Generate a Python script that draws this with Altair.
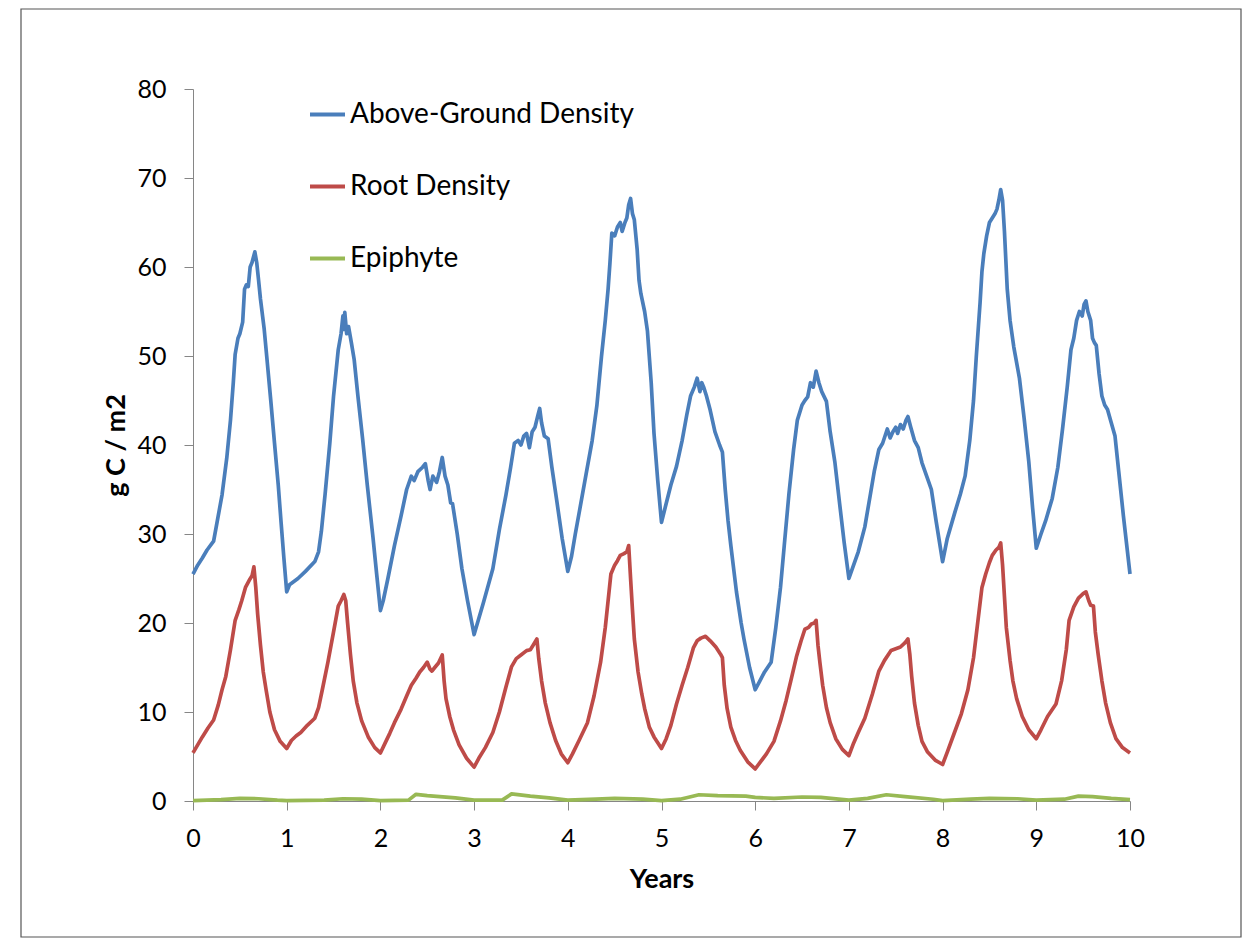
import altair as alt
import pandas as pd

# ---- data ----
ag_years = [0.00, 0.05, 0.10, 0.15, 0.22, 0.26, 0.31, 0.36, 0.40, 0.43, 0.45, 0.48, 0.50, 0.53, 0.55, 0.57, 0.59, 0.61, 0.63, 0.66, 0.68, 0.70, 0.72, 0.76, 0.79, 0.83, 0.87, 0.91, 0.94, 0.97,
            1.00, 1.03, 1.12, 1.20, 1.30, 1.34, 1.37, 1.41, 1.46, 1.50, 1.55, 1.58, 1.60, 1.61, 1.62, 1.64, 1.66, 1.69, 1.72, 1.76, 1.81, 1.86, 1.92, 1.96,
            2.00, 2.03, 2.08, 2.15, 2.22, 2.28, 2.33, 2.36, 2.40, 2.45, 2.48, 2.51, 2.53, 2.56, 2.60, 2.63, 2.66, 2.69, 2.72, 2.75, 2.77, 2.82, 2.87, 2.93,
            3.00, 3.05, 3.10, 3.20, 3.27, 3.34, 3.39, 3.43, 3.47, 3.50, 3.53, 3.56, 3.59, 3.62, 3.65, 3.68, 3.70, 3.72, 3.75, 3.79, 3.83, 3.88, 3.94,
            4.00, 4.04, 4.08, 4.13, 4.20, 4.26, 4.31, 4.36, 4.40, 4.43, 4.45, 4.47, 4.50, 4.53, 4.56, 4.58, 4.61, 4.63, 4.65, 4.67, 4.69, 4.71, 4.74, 4.76, 4.78, 4.82, 4.85, 4.89, 4.92, 4.96,
            5.00, 5.04, 5.10, 5.16, 5.22, 5.27, 5.31, 5.35, 5.38, 5.41, 5.43, 5.45, 5.48, 5.52, 5.57, 5.62, 5.65, 5.68, 5.71, 5.74, 5.80, 5.85, 5.88, 5.94,
            6.00, 6.05, 6.10, 6.17, 6.22, 6.27, 6.31, 6.36, 6.41, 6.45, 6.50, 6.53, 6.56, 6.59, 6.62, 6.65, 6.68, 6.71, 6.76, 6.80, 6.85, 6.90, 6.95,
            7.00, 7.05, 7.10, 7.17, 7.23, 7.27, 7.32, 7.36, 7.41, 7.44, 7.47, 7.50, 7.52, 7.55, 7.58, 7.61, 7.63, 7.66, 7.70, 7.74, 7.78, 7.83, 7.88, 7.93,
            8.00, 8.05, 8.13, 8.19, 8.24, 8.29, 8.33, 8.36, 8.40, 8.42, 8.44, 8.47, 8.50, 8.53, 8.56, 8.58, 8.60, 8.62, 8.64, 8.66, 8.69, 8.72, 8.76, 8.82, 8.87, 8.92, 8.96,
            9.00, 9.05, 9.10, 9.17, 9.23, 9.28, 9.33, 9.37, 9.40, 9.43, 9.46, 9.49, 9.51, 9.53, 9.55, 9.58, 9.60, 9.62, 9.64, 9.67, 9.70, 9.73, 9.76, 9.80, 9.84, 9.88, 9.93, 10.00]
ag_values = [25.5, 26.5, 27.3, 28.2, 29.2, 31.5, 34.4, 38.5, 42.8, 47.0, 50.2, 52.0, 52.5, 53.8, 57.5, 58.0, 57.8, 60.0, 60.5, 61.7, 60.5, 58.5, 56.4, 53.0, 49.6, 45.0, 40.2, 35.5, 31.3, 27.3,
             23.5, 24.3, 25.0, 25.8, 26.9, 28.0, 30.3, 34.5, 40.2, 45.5, 50.7, 52.5, 54.5, 53.0, 54.9, 52.5, 53.3, 51.5, 49.6, 45.5, 40.7, 35.5, 29.7, 25.5,
             21.4, 22.5, 25.0, 28.7, 32.0, 35.0, 36.5, 36.0, 37.0, 37.5, 37.9, 36.0, 35.0, 36.5, 35.8, 37.0, 38.6, 36.5, 35.5, 33.5, 33.4, 30.0, 26.1, 22.5,
             18.7, 20.5, 22.3, 26.1, 30.5, 34.4, 37.5, 40.2, 40.5, 40.0, 41.0, 41.3, 39.7, 41.5, 42.0, 43.3, 44.1, 42.5, 41.0, 40.7, 37.5, 33.9, 29.5,
             25.8, 27.5, 30.0, 32.9, 37.0, 40.5, 44.4, 50.0, 54.0, 57.5, 60.5, 63.8, 63.5, 64.5, 65.0, 64.0, 65.0, 65.5, 67.0, 67.7, 66.0, 65.3, 62.0, 58.5, 57.0, 55.0, 52.8, 47.0, 41.3, 36.0,
             31.3, 33.0, 35.5, 37.6, 40.5, 43.4, 45.5, 46.5, 47.5, 46.0, 47.0, 46.5, 45.5, 43.9, 41.5, 40.0, 39.2, 35.0, 31.5, 28.7, 23.5, 20.0, 18.2, 15.0,
             12.5, 13.5, 14.5, 15.6, 19.5, 24.0, 28.7, 34.5, 39.5, 42.8, 44.5, 45.0, 45.4, 47.0, 46.5, 48.3, 47.0, 46.0, 44.9, 41.5, 38.1, 33.5, 29.0,
             25.0, 26.5, 28.0, 30.8, 34.5, 37.0, 39.5, 40.2, 41.8, 40.8, 41.5, 42.0, 41.3, 42.3, 41.8, 42.8, 43.2, 42.0, 40.5, 39.7, 38.0, 36.5, 35.0, 31.5,
             26.9, 29.5, 32.4, 34.5, 36.5, 40.5, 45.0, 50.0, 56.0, 59.5, 61.5, 63.5, 65.0, 65.5, 66.0, 66.5, 67.5, 68.7, 67.5, 64.0, 57.5, 54.0, 51.0, 47.5, 43.0, 38.1, 33.0,
             28.4, 30.0, 31.5, 34.0, 37.5, 41.8, 46.5, 50.7, 52.0, 54.0, 55.0, 54.5, 55.8, 56.2, 55.0, 54.0, 52.0, 51.5, 51.2, 48.0, 45.5, 44.5, 44.0, 42.5, 41.0, 37.0, 32.0, 25.5]

root_years = [0.00, 0.05, 0.10, 0.16, 0.22, 0.27, 0.31, 0.35, 0.40, 0.45, 0.49, 0.52, 0.56, 0.60, 0.63, 0.65, 0.67, 0.69, 0.72, 0.75, 0.78, 0.82, 0.87, 0.93,
              1.00, 1.05, 1.10, 1.15, 1.22, 1.30, 1.34, 1.38, 1.44, 1.50, 1.55, 1.58, 1.61, 1.63, 1.65, 1.68, 1.71, 1.75, 1.80, 1.87, 1.94,
              2.00, 2.05, 2.10, 2.15, 2.22, 2.28, 2.33, 2.38, 2.42, 2.46, 2.50, 2.53, 2.55, 2.58, 2.62, 2.66, 2.68, 2.70, 2.74, 2.78, 2.84, 2.92,
              3.00, 3.05, 3.12, 3.20, 3.27, 3.34, 3.40, 3.45, 3.50, 3.56, 3.60, 3.63, 3.67, 3.69, 3.72, 3.76, 3.81, 3.87, 3.93,
              4.00, 4.05, 4.12, 4.21, 4.28, 4.35, 4.40, 4.44, 4.46, 4.50, 4.53, 4.56, 4.60, 4.63, 4.65, 4.67, 4.69, 4.71, 4.75, 4.79, 4.82, 4.87, 4.92,
              5.00, 5.05, 5.10, 5.16, 5.22, 5.28, 5.34, 5.38, 5.42, 5.47, 5.52, 5.58, 5.63, 5.65, 5.67, 5.70, 5.74, 5.79, 5.84, 5.92,
              6.00, 6.05, 6.12, 6.20, 6.27, 6.33, 6.38, 6.44, 6.49, 6.53, 6.57, 6.60, 6.63, 6.65, 6.67, 6.69, 6.72, 6.76, 6.80, 6.86, 6.93,
              7.00, 7.05, 7.10, 7.17, 7.25, 7.32, 7.38, 7.45, 7.50, 7.55, 7.60, 7.63, 7.65, 7.67, 7.70, 7.74, 7.78, 7.84, 7.92,
              8.00, 8.05, 8.12, 8.20, 8.27, 8.33, 8.38, 8.42, 8.46, 8.50, 8.53, 8.57, 8.60, 8.62, 8.64, 8.66, 8.68, 8.72, 8.75, 8.79, 8.85, 8.92,
              9.00, 9.05, 9.12, 9.21, 9.27, 9.32, 9.35, 9.40, 9.45, 9.50, 9.53, 9.56, 9.58, 9.61, 9.63, 9.66, 9.70, 9.74, 9.79, 9.85, 9.92, 10.00]
root_values = [5.4, 6.3, 7.2, 8.2, 9.1, 10.8, 12.5, 14.0, 17.0, 20.3, 21.5, 22.5, 24.0, 24.8, 25.3, 26.3, 24.0, 21.0, 17.5, 14.5, 12.5, 10.0, 8.0, 6.7,
               5.9, 6.8, 7.3, 7.7, 8.5, 9.3, 10.5, 12.5, 15.6, 19.0, 21.9, 22.5, 23.2, 22.5, 20.0, 16.5, 13.5, 11.0, 9.0, 7.2, 6.0,
               5.4, 6.5, 7.6, 8.8, 10.3, 11.8, 13.0, 13.8, 14.5, 15.0, 15.6, 14.8, 14.6, 15.0, 15.5, 16.4, 13.5, 11.5, 9.5, 8.0, 6.3, 4.8,
               3.8, 4.8, 6.0, 7.7, 10.0, 12.8, 15.1, 16.0, 16.4, 16.9, 17.0, 17.5, 18.2, 16.0, 13.5, 11.0, 8.8, 6.8, 5.3,
               4.3, 5.3, 6.8, 8.8, 11.8, 15.6, 19.5, 23.5, 25.5, 26.5, 27.0, 27.6, 27.8, 28.0, 28.7, 25.0, 21.5, 18.2, 14.5, 12.0, 10.4, 8.3, 7.2,
               5.9, 7.0, 8.5, 10.9, 13.0, 15.0, 17.2, 18.0, 18.3, 18.5, 18.0, 17.3, 16.5, 16.1, 13.0, 10.4, 8.3, 6.8, 5.7, 4.4,
               3.6, 4.3, 5.3, 6.7, 9.0, 11.3, 13.5, 16.2, 18.0, 19.3, 19.5, 19.9, 20.0, 20.3, 17.5, 15.6, 13.0, 10.5, 8.8, 7.0, 5.8,
               5.1, 6.5, 7.7, 9.3, 12.0, 14.6, 15.8, 16.9, 17.1, 17.3, 17.8, 18.2, 16.5, 14.0, 11.0, 8.5, 6.7, 5.5, 4.6,
               4.1, 5.5, 7.5, 9.8, 12.5, 16.1, 20.5, 24.0, 25.5, 26.8, 27.6, 28.2, 28.5, 29.0, 26.5, 23.0, 19.5, 15.8, 13.5, 11.5, 9.5, 8.0,
               7.0, 8.0, 9.5, 10.9, 13.5, 17.0, 20.3, 21.8, 22.8, 23.3, 23.5, 22.5, 22.0, 21.9, 19.0, 16.5, 13.5, 11.0, 8.8, 7.0, 6.0, 5.4]

epi_years = [0.0, 0.3, 0.5, 0.7, 0.9, 1.0, 1.4, 1.6, 1.8, 2.0, 2.3, 2.38, 2.5, 2.8, 3.0,
             3.3, 3.4, 3.6, 3.8, 4.0, 4.3, 4.5, 4.8, 5.0, 5.2, 5.4, 5.6, 5.9, 6.0,
             6.2, 6.5, 6.7, 7.0, 7.2, 7.4, 7.6, 7.9, 8.0, 8.3, 8.5, 8.8, 9.0, 9.3, 9.45, 9.6, 9.8, 10.0]
epi_values = [0.05, 0.15, 0.3, 0.25, 0.1, 0.05, 0.1, 0.25, 0.2, 0.05, 0.1, 0.75, 0.6, 0.35, 0.1,
              0.1, 0.8, 0.55, 0.35, 0.1, 0.2, 0.3, 0.2, 0.05, 0.2, 0.7, 0.6, 0.55, 0.4,
              0.3, 0.45, 0.4, 0.1, 0.3, 0.7, 0.5, 0.2, 0.05, 0.2, 0.3, 0.25, 0.1, 0.2, 0.55, 0.5, 0.3, 0.15]

series_names = ["Above-Ground Density", "Root Density", "Epiphyte"]
series_colors = ["#4A7EBB", "#BE4B48", "#98B954"]

frames = []
for name, xs, ys in [(series_names[0], ag_years, ag_values),
                     (series_names[1], root_years, root_values),
                     (series_names[2], epi_years, epi_values)]:
    frames.append(pd.DataFrame({"Years": xs, "value": ys, "series": name,
                                "order": range(len(xs))}))
df = pd.concat(frames, ignore_index=True)

FONT = "Lato"

lines = alt.Chart(df).mark_line(strokeWidth=3.7, strokeJoin="round").encode(
    x=alt.X("Years:Q", scale=alt.Scale(domain=[0, 10], nice=False),
            axis=alt.Axis(values=list(range(0, 11)), format="d", grid=False,
                          labelFlush=False,
                          tickSize=9, labelPadding=16, titlePadding=15,
                          domainColor="#868686", tickColor="#868686",
                          labelFontSize=25, titleFontSize=27, labelColor="#000",
                          titleColor="#000", titleFontWeight="bold")),
    y=alt.Y("value:Q", title="g C / m2", scale=alt.Scale(domain=[0, 80], nice=False),
            axis=alt.Axis(values=list(range(0, 81, 10)), format="d", grid=False,
                          labelFlush=False,
                          tickSize=9, labelPadding=18, titlePadding=6,
                          domainColor="#868686", tickColor="#868686",
                          labelFontSize=25, titleFontSize=27, labelColor="#000",
                          titleColor="#000", titleFontWeight="bold")),
    color=alt.Color("series:N",
                    scale=alt.Scale(domain=series_names, range=series_colors),
                    legend=alt.Legend(title=None, orient="none", legendX=115, legendY=6,
                                      symbolType="stroke", symbolSize=1225,
                                      symbolStrokeWidth=4, labelFontSize=28,
                                      labelColor="#000", labelOffset=3, labelLimit=0,
                                      rowPadding=38, padding=0)),
    order="order:Q",
)

border = alt.Chart(pd.DataFrame({"b": [0]})).mark_rect(
    fill=None, stroke="#555555", strokeWidth=1.2
).encode(
    x=alt.value(-172), x2=alt.value(1048), y=alt.value(-80), y2=alt.value(848)
)

chart = alt.layer(border, lines).properties(
    width=937, height=712,
    padding={"left": 12, "top": 0, "right": 5, "bottom": 0},
).configure(font=FONT).configure_view(stroke=None)

chart.save("out.html", embed_options={"renderer": "svg", "actions": False})
